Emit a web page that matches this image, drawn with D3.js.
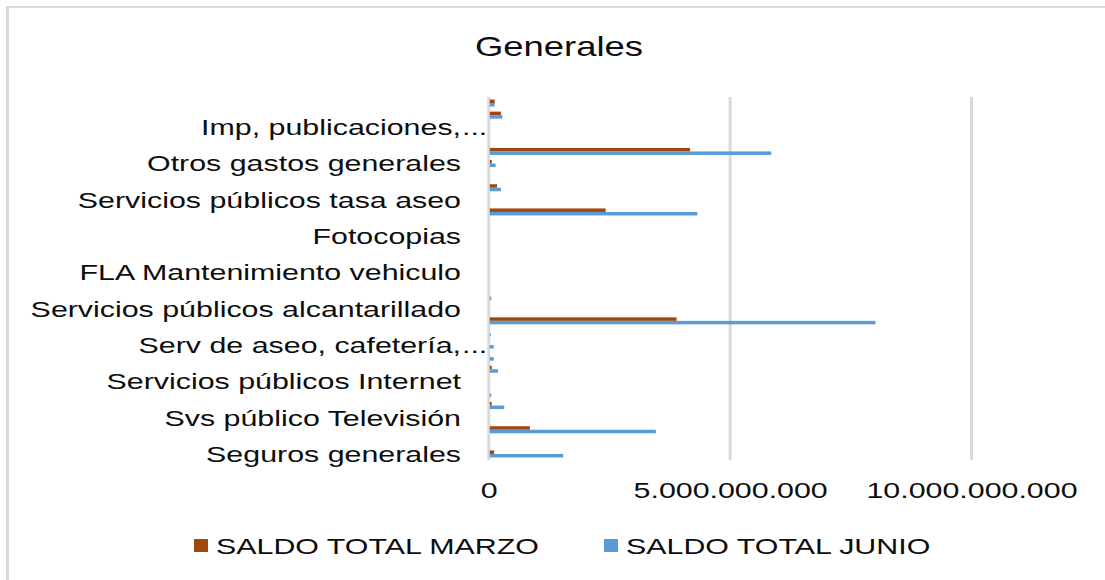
<!DOCTYPE html>
<html>
<head>
<meta charset="utf-8">
<script src="https://cdn.jsdelivr.net/npm/d3@7"></script>
<style>
  html, body { margin: 0; padding: 0; background: #fff; }
  svg { display: block; }
  text { font-family: "Liberation Sans", Arial, sans-serif; fill: #0d0d0d; }
</style>
</head>
<body>
<svg id="chart" width="1105" height="580"></svg>
<script>
// Categories from bottom (index 0) to top; only every third label is shown in the chart
const categoryLabels = [
  "Seguros generales", "", "",
  "Svs público Televisión", "", "",
  "Servicios públicos Internet", "", "",
  "Serv de aseo, cafetería,...", "", "",
  "Servicios públicos alcantarillado", "", "",
  "FLA Mantenimiento vehiculo", "", "",
  "Fotocopias", "", "",
  "Servicios públicos tasa aseo", "", "",
  "Otros gastos generales", "", "",
  "Imp, publicaciones,...", "", ""
];
const seriesNames = ["SALDO TOTAL MARZO", "SALDO TOTAL JUNIO"];
const marzo = [
  0.09e9, 0, 0.83e9, 0, 0.04e9, 0, 0, 0.04e9, 0, 0,
  0, 3.87e9, 0, 0, 0, 0, 0, 0, 0, 0,
  2.40e9, 0, 0.15e9, 0, 0.04e9, 4.15e9, 0, 0, 0.23e9, 0.10e9
];
const junio = [
  1.52e9, 0, 3.44e9, 0, 0.30e9, 0.03e9, 0, 0.17e9, 0.08e9, 0.08e9,
  0.02e9, 7.99e9, 0, 0.03e9, 0, 0, 0, 0, 0, 0,
  4.30e9, 0, 0.23e9, 0, 0.12e9, 5.83e9, 0, 0, 0.26e9, 0.10e9
];
const xTicks = [0, 5e9, 10e9];
const title = "Generales";

const colors = ["#9E480E", "#5B9BD5"];
const SX = 1.35; // horizontal stretch of the original picture
const grid = "#D9D9D9";

const svg = d3.select("#chart");
const locale = d3.formatLocale({decimal: ",", thousands: ".", grouping: [3], currency: ["$", ""]});
const fmt = locale.format(",.0f");

// chart frame (top and left edges visible)
svg.append("line").attr("x1", 7).attr("x2", 1105).attr("y1", 7).attr("y2", 7)
  .attr("stroke", grid).attr("stroke-width", 2);
svg.append("line").attr("x1", 7.5).attr("x2", 7.5).attr("y1", 6).attr("y2", 580)
  .attr("stroke", grid).attr("stroke-width", 3);

// title
svg.append("text").attr("transform", `translate(559,56) scale(${SX},1)`)
  .attr("text-anchor", "middle").attr("font-size", 27).text(title);

const x = d3.scaleLinear().domain([0, 10e9]).range([488.8, 971.5]);
const idx = d3.range(categoryLabels.length);
const y = d3.scaleBand().domain(idx).range([460, 97]).paddingInner(0.42).paddingOuter(0.21);
const ySub = d3.scaleBand().domain([0, 1]).range([0, y.bandwidth()]);

// gridlines
svg.append("g").selectAll("line").data(xTicks).join("line")
  .attr("x1", d => x(d)).attr("x2", d => x(d))
  .attr("y1", 97).attr("y2", 460)
  .attr("stroke", grid).attr("stroke-width", 3);

// bars
const series = [marzo, junio];
series.forEach((vals, s) => {
  svg.append("g").selectAll("rect").data(idx).join("rect")
    .attr("x", x(0) + 1)
    .attr("y", i => y(i) + ySub(s))
    .attr("width", i => Math.max(0, x(vals[i]) - x(0)))
    .attr("height", ySub.bandwidth())
    .attr("fill", colors[s]);
});

// x axis labels
const xAxis = d3.axisBottom(x).tickValues(xTicks).tickFormat(fmt).tickSize(0).tickPadding(0);
const gx = svg.append("g").attr("transform", "translate(0,498)").call(xAxis);
gx.select(".domain").remove();
gx.selectAll("text").attr("y", 0).attr("dy", 0)
  .attr("font-size", 22.5).attr("font-family", '"Liberation Sans", Arial, sans-serif')
  .attr("fill", "#0d0d0d")
  .attr("transform", `scale(${SX},1)`);

// category labels
const labelEnd = 461;
const shown = idx.filter(i => i % 3 === 0);
const gy = svg.append("g");
shown.forEach(i => {
  let lab = categoryLabels[i];
  const cy = y(i) + y.bandwidth() / 2;
  let ell = false;
  if (lab.endsWith("...")) { lab = lab.slice(0, -3); ell = true; }
  gy.append("text").attr("transform", `translate(${labelEnd},${cy}) scale(${SX},1)`)
    .attr("text-anchor", "end").attr("dy", "0.35em").attr("font-size", 22.5).text(lab);
  if (ell) {
    gy.append("text").attr("transform", `translate(${labelEnd + 1},${cy}) scale(${SX},1)`)
      .attr("text-anchor", "start").attr("dy", "0.35em").attr("font-size", 22.5).text("...");
  }
});

// legend
const legendPos = [194, 604];
seriesNames.forEach((name, s) => {
  const g = svg.append("g").attr("transform", `translate(${legendPos[s]},0)`);
  g.append("rect").attr("x", 0).attr("y", 539).attr("width", 14).attr("height", 13).attr("fill", colors[s]);
  g.append("text").attr("transform", `translate(22,554) scale(${SX},1)`)
    .attr("font-size", 22.5).text(name);
});
</script>
</body>
</html>
